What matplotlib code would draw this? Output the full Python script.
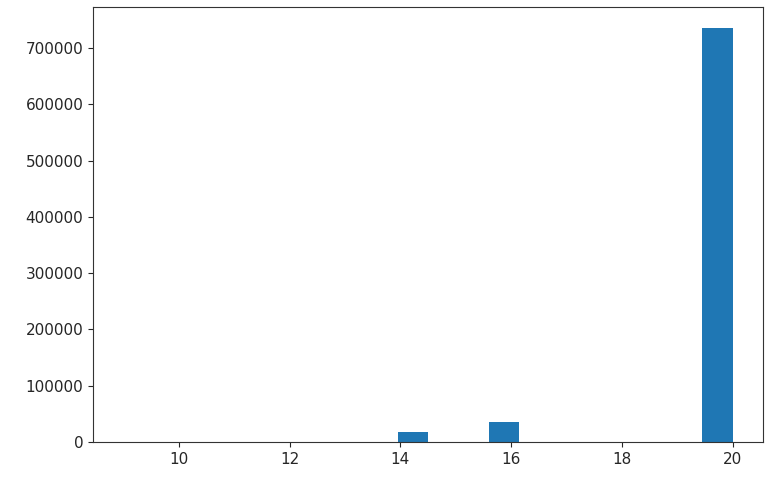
import numpy as np
import matplotlib
matplotlib.use('Agg')
import matplotlib.pyplot as plt

# bin centres holding data and their counts
values = [9.0, 14.2, 15.9, 19.8]
counts = [150, 17800, 35500, 735500]

fig = plt.figure(figsize=(7.68, 4.8), dpi=100)
ax = fig.add_axes([93 / 768, 0.079, 670 / 768, 0.906])
ax.hist(values, bins=20, range=(9, 20), weights=counts, color='#1f77b4')

ax.set_xticks([10, 12, 14, 16, 18, 20])
ax.set_yticks(np.arange(0, 800000, 100000))
ax.tick_params(labelsize=11, colors='#262626')
for s in ax.spines.values():
    s.set_color('#333333')

fig.savefig('out.png', dpi=100)
